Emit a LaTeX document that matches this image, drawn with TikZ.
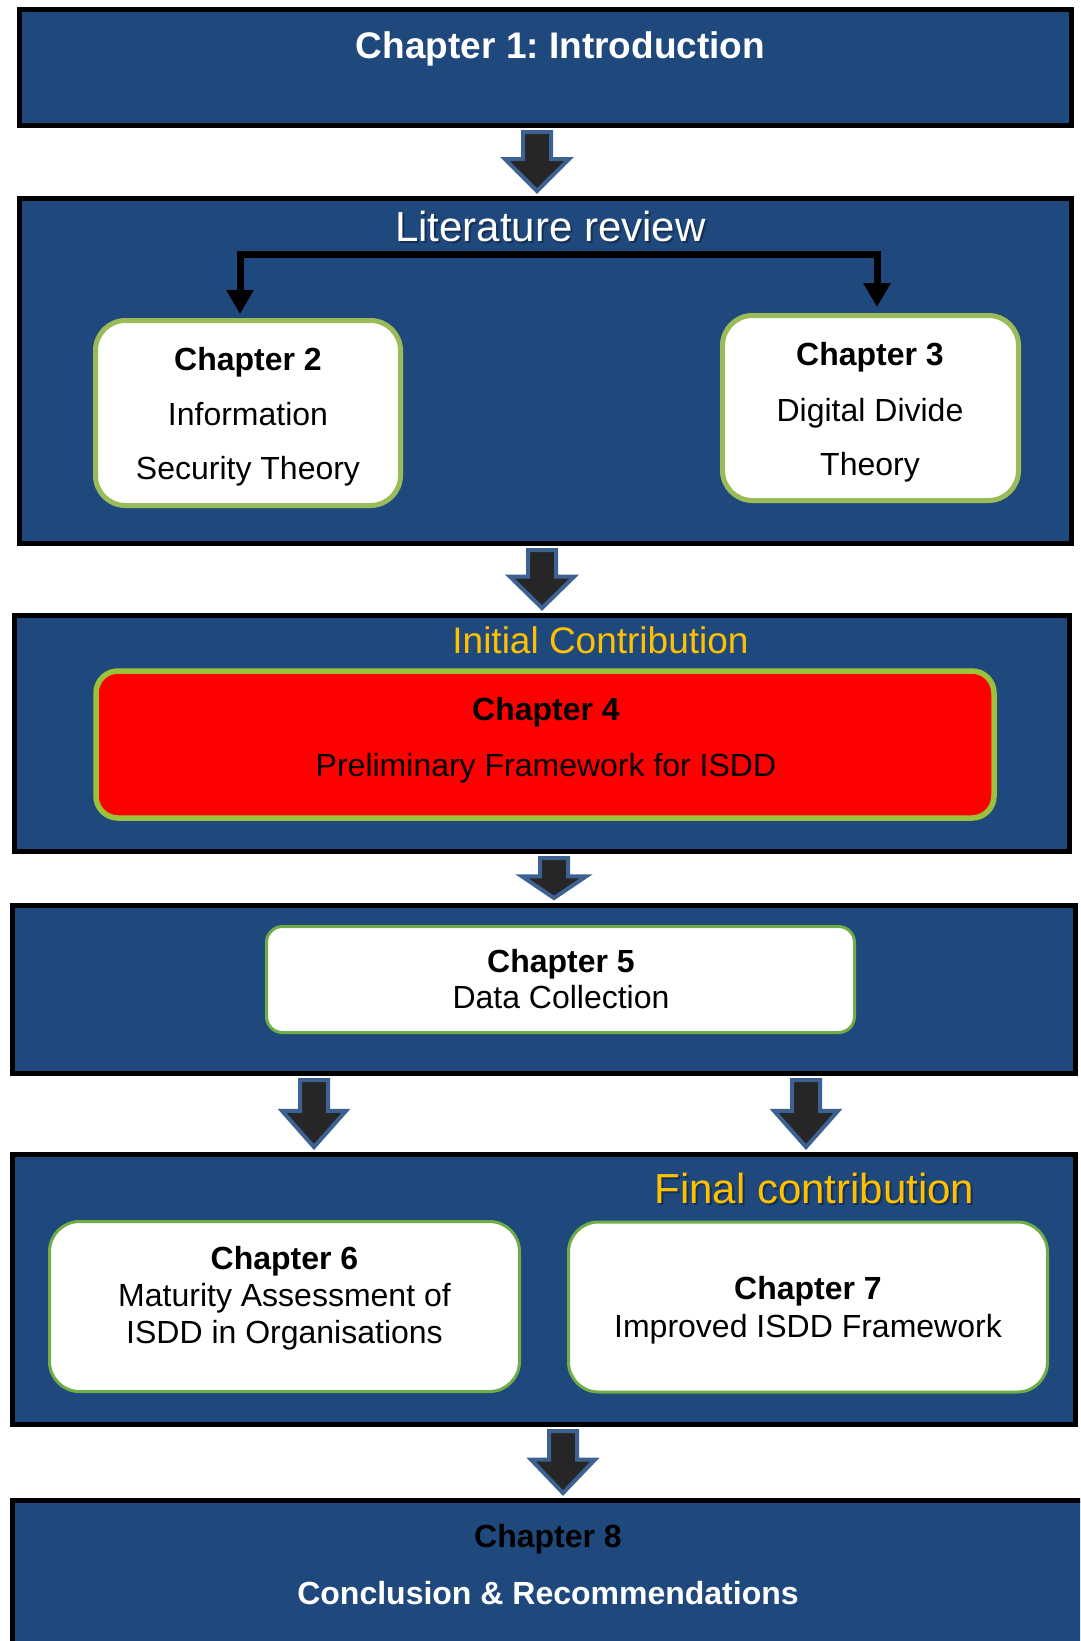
\documentclass[tikz,border=0pt]{standalone}
\usepackage{fontspec}
\setmainfont{Liberation Sans}
\usetikzlibrary{arrows.meta,calc}
\frenchspacing

\definecolor{bandblue}{HTML}{1F497D}
\definecolor{arrowdark}{HTML}{262626}
\definecolor{arrowrim}{HTML}{3D6190}
\definecolor{headgold}{HTML}{FFC000}
\definecolor{sagegreen}{HTML}{9BBB59}
\definecolor{limegreen}{HTML}{9BC33A}
\definecolor{grassgreen}{HTML}{70AD47}

% block arrow from the bottom of node #1 to the top of node #2, centred at x=#3
\newcommand\flowdown[3]{%
  \draw[flowarrow] let \p1=(#1.south), \p2=(#2.north),
      \n1={0.54*((\y1-4pt)-(\y2+5pt))} in
    ({#3-14},{\y1-4pt}) -- ({#3+14},{\y1-4pt})
    -- ({#3+14},{\y2+5pt+\n1*1pt}) -- ({#3+32},{\y2+5pt+\n1*1pt})
    -- (#3,{\y2+5pt})
    -- ({#3-32},{\y2+5pt+\n1*1pt}) -- ({#3-14},{\y2+5pt+\n1*1pt}) -- cycle;}

\begin{document}
\begin{tikzpicture}[x=1pt,y=-1pt,
  band/.style={rectangle, draw=black, line width=5pt, fill=bandblue, inner sep=0pt},
  card/.style={rectangle, rounded corners=30pt, fill=white, draw=sagegreen, line width=5pt, inner sep=0pt},
  thincard/.style={card, draw=grassgreen, line width=3pt},
  redcard/.style={card, fill=red, draw=limegreen, line width=5.5pt, rounded corners=22pt},
  flowarrow/.style={fill=arrowdark, draw=arrowrim, line width=4pt, line join=miter},
  fork/.style={draw=black, line width=7pt, line join=miter,
    {Triangle[width=26pt,length=24pt]}-{Triangle[width=26pt,length=24pt]}},
  body/.style={anchor=base, inner sep=0pt, font=\fontsize{32}{38}\selectfont},
  head/.style={anchor=base, inner sep=0pt, font=\fontsize{32}{38}\selectfont\bfseries},
  banner/.style={anchor=base, inner sep=0pt, font=\fontsize{42}{48}\selectfont},
  glow/.style={text=black, text opacity=0.35}
]
\useasboundingbox (0,0) rectangle (1080,1641);
\clip (0,0) rectangle (1080,1641);

% chapter bands
\node[band, minimum width=1052, minimum height=116] (intro) at (545.5,67.5) {};
\node[band, minimum width=1052, minimum height=345] (lit) at (545.5,371) {};
\node[band, minimum width=1055, minimum height=236] (initial) at (542,733.5) {};
\node[band, minimum width=1063, minimum height=168] (data) at (544,989.5) {};
\node[band, minimum width=1063, minimum height=270] (final) at (544,1289.5) {};
\node[band, minimum width=1100, minimum height=300] (concl) at (562.5,1650.5) {};

% chapter cards
\node[card, minimum width=305, minimum height=185] (c2) at (248,413) {};
\node[card, minimum width=296, minimum height=185] (c3) at (870.5,408) {};
\node[redcard, minimum width=898, minimum height=147] (c4) at (545,744.5) {};
\node[thincard, rounded corners=16pt, minimum width=588, minimum height=106] (c5) at (560.5,979.5) {};
\node[thincard, minimum width=470, minimum height=170] (c6) at (284.5,1306.5) {};
\node[thincard, minimum width=479, minimum height=170] (c7) at (808,1307) {};

% texts
\node[head, text=white, font=\fontsize{37}{44}\selectfont\bfseries] (t1) at (560.5,58) {Chapter 1: Introduction};

\node[banner, glow] (litshade) at (552.5,243.5) {Literature review};
\node[banner, text=white] (littitle) at (550.5,241) {Literature review};

\node[head] (c2a) at (248,370) {Chapter 2};
\node[body] (c2b) at (248,425) {Information};
\node[body] (c2c) at (248,479) {Security Theory};

\node[head] (c3a) at (870,365) {Chapter 3};
\node[body] (c3b) at (870,421) {Digital Divide};
\node[body] (c3c) at (870,475) {Theory};

\node[body, text=headgold, font=\fontsize{37}{44}\selectfont] (inittitle) at (600.5,653) {Initial Contribution};
\node[head] (c4a) at (546,720) {Chapter 4};
\node[body] (c4b) at (546,776) {Preliminary Framework for ISDD};

\node[head] (c5a) at (561,972) {Chapter 5};
\node[body] (c5b) at (561,1008) {Data Collection};

\node[banner, glow] (finalshade) at (816.5,1205.5) {Final contribution};
\node[banner, text=headgold] (finaltitle) at (814.5,1203) {Final contribution};

\node[head] (c6a) at (284.5,1269) {Chapter 6};
\node[body] (c6b) at (284.5,1306) {Maturity Assessment of};
\node[body] (c6c) at (284.5,1343) {ISDD in Organisations};

\node[head] (c7a) at (808,1299) {Chapter 7};
\node[body] (c7b) at (808,1337) {Improved ISDD Framework};

\node[head] (c8a) at (548,1547) {Chapter 8};
\node[head, text=white] (c8b) at (548,1604) {Conclusion \& Recommendations};

% literature review split into chapters 2 and 3
\coordinate (split) at (560,254);
\draw[fork] ([xshift=-8pt,yshift=4pt]c2.north) |- (split) -| ([xshift=6.5pt,yshift=6pt]c3.north);

% flow between bands
\flowdown{intro}{lit}{537}
\flowdown{lit}{initial}{542}
\flowdown{initial}{data}{554}
\flowdown{data}{final}{314}
\flowdown{data}{final}{806}
\flowdown{final}{concl}{563}
\end{tikzpicture}
\end{document}
